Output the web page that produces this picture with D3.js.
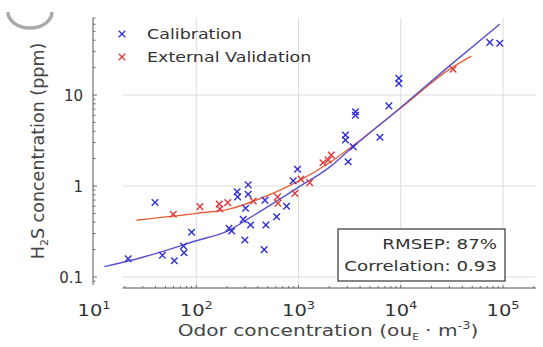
<!DOCTYPE html>
<head>
  <meta charset="utf-8">
  <title>H2S vs odor</title>
  <script src="https://d3js.org/d3.v7.min.js"></script>
  <style>
    body { margin: 0; background: #fff; }
    text { font-family: 'DejaVu Sans', sans-serif; fill: #333; }
    .grid-line { stroke: #dcdcdc; stroke-width: 1; }
    .axis-line { stroke: #555; stroke-width: 1; }
    .tick-mark { stroke: #666; stroke-width: 1; }
  </style>
</head>
<body>
  <script>
    // calibration samples [odor ouE/m3, H2S ppm]
    var calibOdor = [21.6, 39.5, 46.6, 61, 75, 76, 90, 209, 222, 251, 254, 288, 299, 304, 322, 322, 340,
                     462, 470, 480, 611, 765, 887, 979, 2880, 2880, 3060, 3430, 3610, 3610, 6250, 7650,
                     9570, 9570, 74300, 93000];
    var calibH2S  = [0.159, 0.66, 0.173, 0.151, 0.219, 0.185, 0.31, 0.343, 0.32, 0.866, 0.76, 0.43, 0.255, 0.569, 1.03, 0.81, 0.373,
                     0.20, 0.70, 0.373, 0.46, 0.60, 1.14, 1.53, 3.63, 3.2, 1.85, 2.7, 6.55, 6.0, 3.43, 7.6,
                     15.3, 13.4, 37.9, 37];
    // external validation samples
    var validOdor = [59.6, 108.6, 168, 170, 203, 361, 624, 630, 922, 1055, 1286, 1737, 1950, 2090, 32500];
    var validH2S  = [0.489, 0.593, 0.634, 0.559, 0.656, 0.684, 0.76, 0.645, 0.83, 1.19, 1.09, 1.80, 1.93, 2.19, 19.2];
    // fitted curves
    var calibFitOdor = [12.6, 30, 100, 214, 316, 1000, 2000, 3162, 10000, 31623, 93000];
    var calibFitH2S  = [0.13, 0.165, 0.25, 0.33, 0.43, 0.97, 1.6, 2.5, 7.3, 22, 60];
    var validFitOdor = [26, 100, 214, 361, 955, 2000, 3162, 10000, 31623, 49000];
    var validFitH2S  = [0.42, 0.5, 0.56, 0.68, 1.1, 1.8, 2.6, 7.2, 20, 26.8];

    var xTicks = [10, 100, 1000, 10000, 100000];
    var yTicks = [0.1, 1, 10];
    var xSpan = [19, 210000];
    var ySpan = [0.082, 70];

    var W = 543, H = 347;
    var stretch = 1.3; // the source picture is squashed wide, text too
    var svg = d3.select("body").append("svg")
      .attr("width", W).attr("height", H);

    var x = d3.scaleLog().domain([10, 100000]).range([94, 503]);
    var y = d3.scaleLog().domain([0.1, 10]).range([277, 95]);

    var blue = "#2f2fd8", blueLine = "#5a52cc", red = "#e03a3a", redLine = "#e8603c";

    // grey arc left over from the source figure
    svg.append("path")
      .attr("d", "M8,12 A22,16 0 0,0 52,12")
      .attr("fill", "none").attr("stroke", "#aaa").attr("stroke-width", 3.5);

    // grid
    var gx0 = x(xSpan[0]), gx1 = x(xSpan[1]), gy0 = y(ySpan[1]), gy1 = y(ySpan[0]);
    svg.append("g").selectAll("line")
      .data(xTicks.slice(1))
      .enter().append("line")
        .attr("class", "grid-line")
        .attr("x1", d => x(d)).attr("x2", d => x(d))
        .attr("y1", gy0).attr("y2", gy1);
    svg.append("g").selectAll("line")
      .data(yTicks)
      .enter().append("line")
        .attr("class", "grid-line")
        .attr("x1", gx0).attr("x2", gx1)
        .attr("y1", d => y(d)).attr("y2", d => y(d));

    // y axis (offset from the x axis)
    var yAxisX = 93;
    svg.append("line").attr("class", "axis-line")
      .attr("x1", yAxisX).attr("x2", yAxisX).attr("y1", gy0).attr("y2", gy1);
    var yMinor = [];
    [0.01, 0.1, 1, 10].forEach(dec => { for (var k = 1; k < 10; k++) yMinor.push(dec * k); });
    svg.append("g").selectAll("line")
      .data(yMinor.filter(v => v >= ySpan[0] && v <= ySpan[1]))
      .enter().append("line")
        .attr("class", "tick-mark")
        .attr("x1", yAxisX).attr("x2", d => yAxisX + (yTicks.includes(d) ? 4 : 2.5))
        .attr("y1", d => y(d)).attr("y2", d => y(d));
    svg.append("g").selectAll("text")
      .data(yTicks)
      .enter().append("text")
        .attr("x", 83).attr("y", d => y(d)).attr("dy", "0.38em")
        .attr("text-anchor", "end")
        .style("font-size", "15px")
        .text(d => d);

    // x axis
    var xAxisY = 288;
    svg.append("line").attr("class", "axis-line")
      .attr("x1", gx0).attr("x2", gx1).attr("y1", xAxisY).attr("y2", xAxisY);
    var xMinor = [];
    [10, 100, 1000, 10000, 100000].forEach(dec => { for (var k = 1; k < 10; k++) xMinor.push(dec * k); });
    svg.append("g").selectAll("line")
      .data(xMinor.filter(v => v >= xSpan[0] && v <= xSpan[1]))
      .enter().append("line")
        .attr("class", "tick-mark")
        .attr("x1", d => x(d)).attr("x2", d => x(d))
        .attr("y1", xAxisY).attr("y2", d => xAxisY - (xTicks.includes(d) ? 3 : 2));
    var xl = svg.append("g").selectAll("text")
      .data(xTicks)
      .enter().append("text")
        .attr("transform", d => "translate(" + x(d) + ",316) scale(" + stretch + ",1)")
        .attr("text-anchor", "middle")
        .style("font-size", "15px");
    xl.append("tspan").text("10");
    xl.append("tspan").attr("dy", -7).style("font-size", "10px").text(d => Math.round(Math.log10(d)));

    // axis titles
    var xt = svg.append("text")
      .attr("transform", "translate(328,336) scale(" + stretch + ",1)")
      .attr("text-anchor", "middle")
      .style("font-size", "15.5px").style("fill", "#444");
    xt.append("tspan").text("Odor concentration (ou");
    xt.append("tspan").attr("dy", 4).style("font-size", "8px").text("E");
    xt.append("tspan").attr("dy", -4).text(" \u00B7 m");
    xt.append("tspan").attr("dy", -7).style("font-size", "10px").text("-3");
    xt.append("tspan").attr("dy", 7).text(")");

    var yt = svg.append("text")
      .attr("transform", "translate(44,151) rotate(-90)")
      .attr("text-anchor", "middle")
      .style("font-size", "17.5px").style("fill", "#444");
    yt.append("tspan").text("H");
    yt.append("tspan").attr("dy", 4).style("font-size", "11px").text("2");
    yt.append("tspan").attr("dy", -4).text("S concentration (ppm)");

    // fit curves
    var line = d3.line()
      .x(d => x(d[0])).y(d => y(d[1]))
      .curve(d3.curveMonotoneX);
    svg.append("path")
      .datum(d3.zip(validFitOdor, validFitH2S))
      .attr("d", line)
      .attr("fill", "none").attr("stroke", redLine).attr("stroke-width", 1.4);
    svg.append("path")
      .datum(d3.zip(calibFitOdor, calibFitH2S))
      .attr("d", line)
      .attr("fill", "none").attr("stroke", blueLine).attr("stroke-width", 1.4);

    // markers
    var cross = d3.symbol().type(d3.symbolX).size(30);
    function drawPts(xs, ys, col) {
      svg.append("g").selectAll("path")
        .data(d3.zip(xs, ys))
        .enter().append("path")
          .attr("d", cross)
          .attr("transform", d => "translate(" + x(d[0]) + "," + y(d[1]) + ")")
          .attr("fill", "none").attr("stroke", col).attr("stroke-width", 1.4);
    }
    drawPts(calibOdor, calibH2S, blue);
    drawPts(validOdor, validH2S, red);

    // legend
    var legend = [["Calibration", blue], ["External Validation", red]];
    var lg = svg.append("g").selectAll("g")
      .data(legend)
      .enter().append("g")
        .attr("transform", (d, i) => "translate(122," + (34 + i * 23) + ")");
    lg.append("path").attr("d", cross)
      .attr("fill", "none").attr("stroke", d => d[1]).attr("stroke-width", 1.3);
    lg.append("text")
      .attr("transform", "translate(25,0) scale(1.25,1)")
      .attr("dy", "0.36em")
      .style("font-size", "14px").text(d => d[0]);

    // stats box
    svg.append("rect")
      .attr("x", 338).attr("y", 229).attr("width", 167).attr("height", 52)
      .attr("fill", "#fff").attr("stroke", "#444").attr("stroke-width", 1.3);
    svg.append("text").attr("transform", "translate(497,249) scale(" + stretch + ",1)")
      .attr("text-anchor", "end")
      .style("font-size", "14px").text("RMSEP: 87%");
    svg.append("text").attr("transform", "translate(497,271) scale(" + stretch + ",1)")
      .attr("text-anchor", "end")
      .style("font-size", "14px").text("Correlation: 0.93");
  </script>
</body>
